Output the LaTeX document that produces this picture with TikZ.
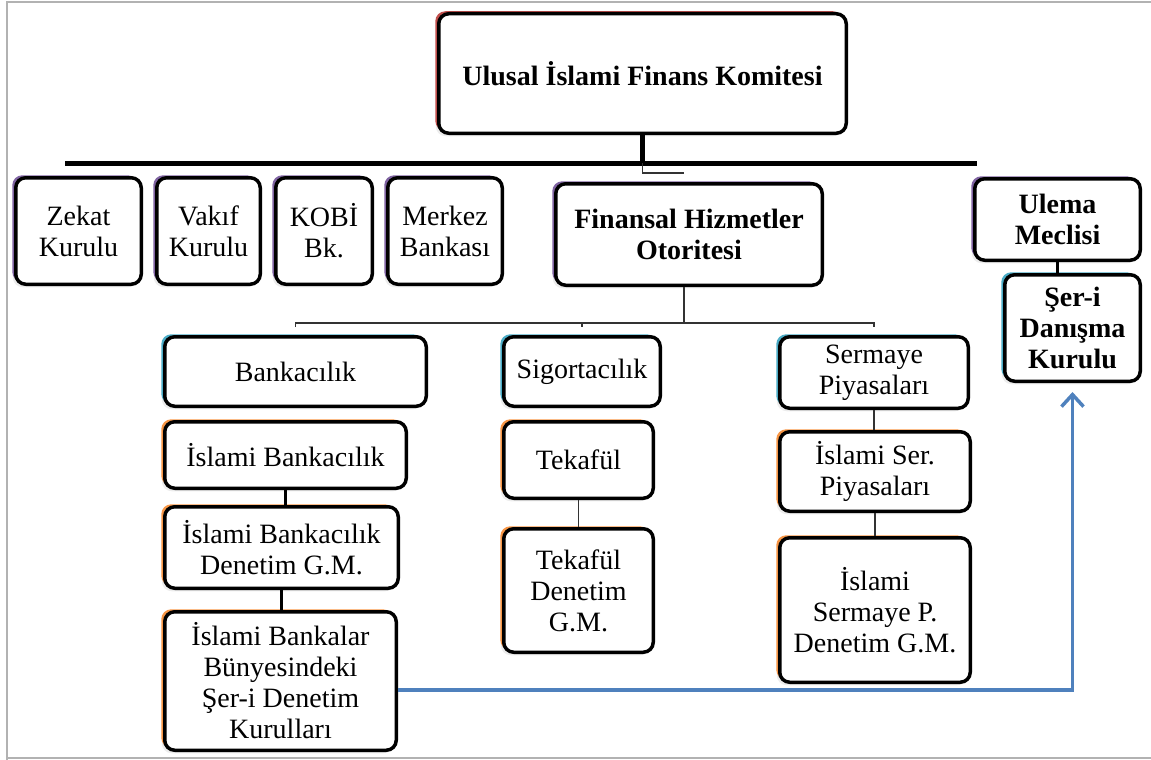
\documentclass[tikz,border=0pt]{standalone}
\usepackage{fontspec}
\setmainfont{Liberation Serif}
\usetikzlibrary{positioning, arrows.meta, shadows}

\definecolor{accred}{HTML}{C0504D}
\definecolor{accpurple}{HTML}{8064A2}
\definecolor{acccyan}{HTML}{4BACC6}
\definecolor{accorange}{HTML}{F79646}
\definecolor{flowblue}{HTML}{4F81BD}

\begin{document}
\begin{tikzpicture}[
        x=1pt, y=-1pt,
        box/.style={rectangle, draw=black, line width=3.5pt, rounded corners=10pt,
                    fill=white, align=center, inner sep=2pt, anchor=north west,
                    font=\fontsize{28}{31}\selectfont,
                    drop shadow={shadow xshift=-3pt, shadow yshift=-3pt, opacity=0.15},
                    general shadow={shadow xshift=-3.5pt, shadow yshift=2.5pt, fill=#1}},
        box/.default=accorange,
        bold/.style={font=\fontsize{28}{31}\selectfont\bfseries},
        bus/.style={line width=5pt},
        link/.style={line width=1.6pt, black!80},
        stub/.style={line width=3pt},
        flow/.style={-{Straight Barb[length=12pt, width=22pt]}, draw=flowblue, line width=3.5pt},
        frame/.style={draw=black!30, line width=2pt},
    ]
    \useasboundingbox (0,0) rectangle (1151,760);
    \draw[frame] (7,760) -- (7,2) -- (1151,2);
    \draw[frame] (7,758) -- (1151,758);

    % komite
    \node[box=accred, bold, minimum width=407.5pt, minimum height=119.5pt] (ufk) at (437,12)
        {Ulusal İslami Finans Komitesi};

    % ikinci sira
    \node[box=accpurple, minimum width=125.5pt, minimum height=106.5pt] (zekat) at (14,176) {Zekat\\Kurulu};
    \node[box=accpurple, minimum width=103.5pt, minimum height=106.5pt,
          right=12pt of zekat.north east, anchor=north west] (vakif) {Vakıf\\Kurulu};
    \node[box=accpurple, minimum width=96.5pt, minimum height=106.5pt,
          right=12pt of vakif.north east, anchor=north west] (kobi) {KOBİ\\Bk.};
    \node[box=accpurple, minimum width=114.5pt, minimum height=106.5pt,
          right=12pt of kobi.north east, anchor=north west] (merkez) {Merkez\\Bankası};
    \node[box=accpurple, bold, minimum width=266.5pt, minimum height=101.5pt] (fho) at (554,182)
        {Finansal Hizmetler\\Otoritesi};
    \node[box=accpurple, bold, minimum width=165.5pt, minimum height=81.5pt] (ulema) at (973,177)
        {Ulema\\Meclisi};
    \node[box=acccyan, bold, minimum width=135.5pt, minimum height=106.5pt,
          below=11pt of ulema.south east, anchor=north east] (seri) {Şer-i\\Danışma\\Kurulu};

    % bankacilik
    \node[box=acccyan, minimum width=261.5pt, minimum height=69.5pt] (bank) at (163,335) {Bankacılık};
    \node[box, minimum width=241.5pt, minimum height=66.5pt,
          below=12pt of bank.south west, anchor=north west] (ibank) {İslami Bankacılık};
    \node[box, minimum width=233.5pt, minimum height=81.5pt,
          below=15pt of ibank.south west, anchor=north west] (ibden) {İslami Bankacılık\\Denetim G.M.};
    \node[box, minimum width=231.5pt, minimum height=138.5pt,
          below=20pt of ibden.south west, anchor=north west] (kurul)
          {İslami Bankalar\\Bünyesindeki\\Şer-i Denetim\\Kurulları};

    % sigortacilik
    \node[box=acccyan, minimum width=156.5pt, minimum height=69.5pt] (sigorta) at (502,335) {Sigortacılık};
    \node[box, minimum width=149.5pt, minimum height=76.5pt,
          below=12pt of sigorta.south west, anchor=north west] (tekaful) {Tekafül};
    \node[box, minimum width=149.5pt, minimum height=123.5pt,
          below=27pt of tekaful.south west, anchor=north west] (tekden) {Tekafül\\Denetim\\G.M.};

    % sermaye piyasalari
    \node[box=acccyan, minimum width=188.5pt, minimum height=71.5pt] (sermaye) at (778,335) {Sermaye\\Piyasaları};
    \node[box, minimum width=190.5pt, minimum height=79.5pt,
          below=20pt of sermaye.south west, anchor=north west] (iser) {İslami Ser.\\Piyasaları};
    \node[box, minimum width=190.5pt, minimum height=144.5pt,
          below=23pt of iser.south west, anchor=north west] (iserden) {İslami\\Sermaye P.\\Denetim G.M.};

    % baglantilar
    \coordinate (busL) at (65,163);
    \coordinate (busR) at (977,163);
    \coordinate (fhoL) at (684,173);
    \coordinate (sub) at (684,323);
    \draw[bus] (ufk.south) -- (ufk.south |- busL);
    \draw[bus] (busL) -- (busR);
    \draw[link] (ufk.south |- busL) |- (fhoL);
    \draw[link] (fho.south -| sub) -- (sub);
    \draw[link] ([yshift=-4pt]bank.north |- sub) -- (bank.north |- sub)
        -- (sermaye.north |- sub) -- ([yshift=-4pt]sermaye.north |- sub);
    \draw[link] (sigorta.north |- sub) -- ([yshift=-4pt]sigorta.north |- sub);

    \draw[stub] (ibank.south) -- (ibank.south |- ibden.north);
    \draw[stub] (ibden.south) -- (ibden.south |- kurul.north);
    \draw[link] (tekaful.south) -- (tekaful.south |- tekden.north);
    \draw[link] (sermaye.south) -- (sermaye.south |- iser.north);
    \draw[link] (iser.south) -- (iser.south |- iserden.north);
    \draw[stub] (ulema.south) -- (ulema.south |- seri.north);

    \draw[flow, shorten >=9pt] ([yshift=-9pt]kurul.east) -| (seri.south);
\end{tikzpicture}
\end{document}
